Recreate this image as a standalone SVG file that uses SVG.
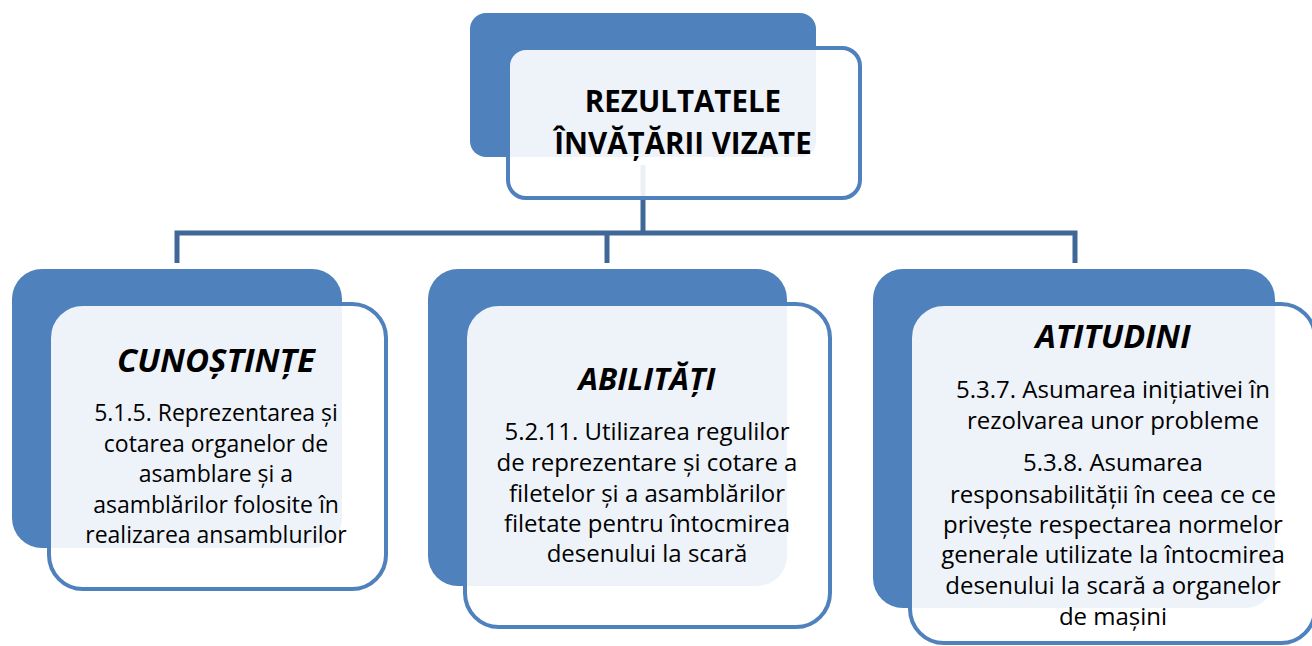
<svg xmlns="http://www.w3.org/2000/svg" width="1312" height="646" viewBox="0 0 1312 646">
<style>
.back{fill:#4F81BD;}
.front{fill:#FFFFFF;fill-opacity:0.9;stroke:#4F81BD;stroke-width:4;}
.conn{fill:none;stroke:#3F6797;stroke-width:5;}
.title{font-family:"Open Sans","Noto Sans",sans-serif;font-weight:bold;font-size:29.5px;fill:#000;text-anchor:middle;}
.head{font-family:"Open Sans","Noto Sans",sans-serif;font-weight:bold;font-style:italic;fill:#000;text-anchor:middle;}
.body{font-family:"Open Sans","Noto Sans",sans-serif;fill:#000;text-anchor:middle;}
.h1{font-size:33px;}
.h2{font-size:31px;}
.h3{font-size:32.5px;}
.b1{font-size:23px;}
.b2{font-size:24px;}
.b3{font-size:24px;}
</style>
<rect width="1312" height="646" fill="#FFFFFF"/>
<g id="connectors">
<path class="conn" d="M643,165 V233"/>
<path class="conn" d="M177,263 V233 H1075 V263"/>
<path class="conn" d="M607,233 V263"/>
</g>
<g id="node-top">
<rect class="back" x="470" y="13" width="346" height="144" rx="16"/>
<rect class="front" x="508" y="48" width="352" height="150" rx="18"/>
<text class="title" x="683" y="112">REZULTATELE</text>
<text class="title" x="683" y="154">ÎNVĂȚĂRII VIZATE</text>
</g>
<g id="node-cunostinte">
<rect class="back" x="12" y="269" width="330" height="279" rx="30"/>
<rect class="front" x="49" y="304" width="337" height="285" rx="34"/>
<text class="head h1" x="216" y="372">CUNOȘTINȚE</text>
<text class="body b1" x="216" y="421">5.1.5. Reprezentarea și</text>
<text class="body b1" x="216" y="452">cotarea organelor de</text>
<text class="body b1" x="216" y="482">asamblare și a</text>
<text class="body b1" x="216" y="513">asamblărilor folosite în</text>
<text class="body b1" x="216" y="543">realizarea ansamblurilor</text>
</g>
<g id="node-abilitati">
<rect class="back" x="428" y="269" width="359" height="317" rx="30"/>
<rect class="front" x="465" y="304" width="365" height="323" rx="34"/>
<text class="head h2" x="647" y="390">ABILITĂȚI</text>
<text class="body b2" x="647" y="440">5.2.11. Utilizarea regulilor</text>
<text class="body b2" x="647" y="471">de reprezentare și cotare a</text>
<text class="body b2" x="647" y="502">filetelor și a asamblărilor</text>
<text class="body b2" x="647" y="532">filetate pentru întocmirea</text>
<text class="body b2" x="647" y="562">desenului la scară</text>
</g>
<g id="node-atitudini">
<rect class="back" x="873" y="269" width="402" height="339" rx="30"/>
<rect class="front" x="910" y="304" width="405" height="339" rx="34"/>
<text class="head h3" x="1113" y="348">ATITUDINI</text>
<text class="body b3" x="1113" y="398">5.3.7. Asumarea inițiativei în</text>
<text class="body b3" x="1113" y="429">rezolvarea unor probleme</text>
<text class="body b3" x="1113" y="471">5.3.8. Asumarea</text>
<text class="body b3" x="1113" y="503">responsabilității în ceea ce ce</text>
<text class="body b3" x="1113" y="533">privește respectarea normelor</text>
<text class="body b3" x="1113" y="563">generale utilizate la întocmirea</text>
<text class="body b3" x="1113" y="594">desenului la scară a organelor</text>
<text class="body b3" x="1113" y="625">de mașini</text>
</g>
</svg>
